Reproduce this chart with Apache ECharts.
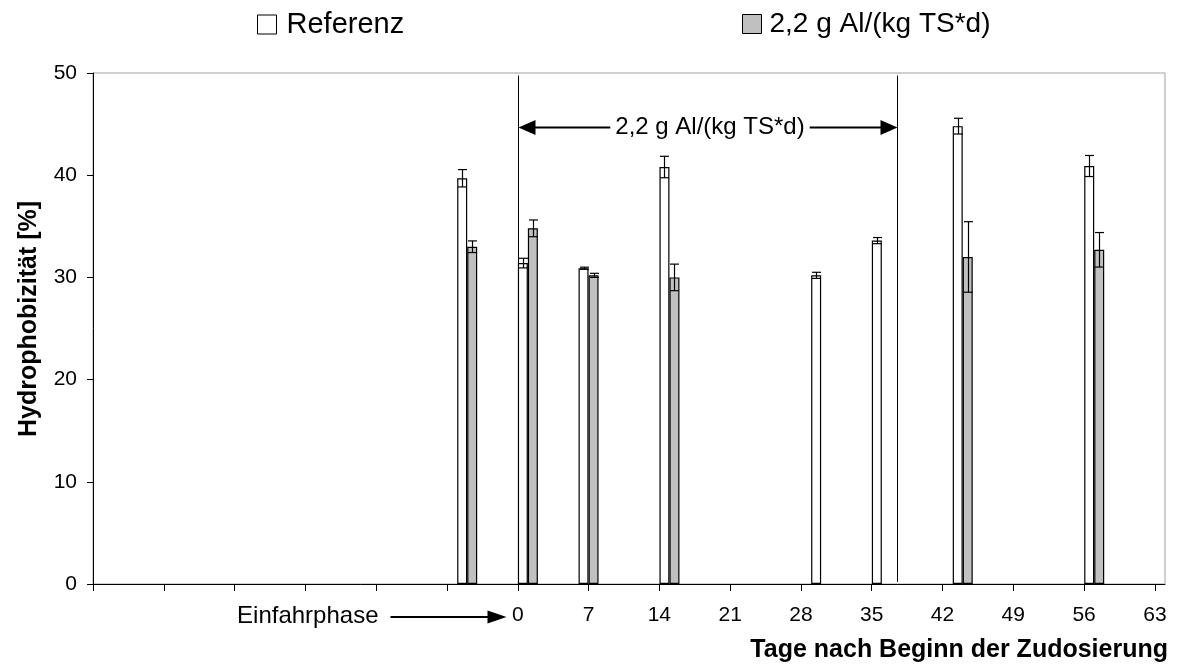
<!DOCTYPE html>
<html>
<head>
<meta charset="utf-8">
<script src="https://cdn.jsdelivr.net/npm/echarts@6/dist/echarts.min.js"></script>
<style>html,body{margin:0;padding:0;background:#fff}#c{width:1179px;height:668px}</style>
</head>
<body>
<div id="c"></div>
<script>
// ---- data ----
const days          = [-5, 1, 7, 15, 30, 36, 44, 57];
const referenz      = [39.7, 31.4, 30.9, 40.8, 30.2, 33.6, 44.8, 40.9];
const referenzErr   = [0.85, 0.47, 0.1, 1.05, 0.3, 0.3, 0.77, 1.03];
const aluminium     = [33.0, 34.8, 30.2, 30.0, null, null, 32.0, 32.7];
const aluminiumErr  = [0.57, 0.82, 0.2, 1.3, null, null, 3.45, 1.69];
const xTickValues   = [-42, -35, -28, -21, -14, -7, 0, 7, 14, 21, 28, 35, 42, 49, 56, 63];
const xLabelValues  = [0, 7, 14, 21, 28, 35, 42, 49, 56, 63];
const yTickValues   = [0, 10, 20, 30, 40, 50];
const dosingStart   = 0;
const dosingEnd     = 37.5;
const nameRef = 'Referenz';
const nameAl  = '2,2 g Al/(kg TS*d)';

const FONT = 'Liberation Sans, Arial, sans-serif';
const chart = echarts.init(document.getElementById('c'), null, {renderer: 'canvas'});

function errSeries(name, vals, errs, offset) {
  const data = [];
  days.forEach((d, i) => { if (vals[i] != null) data.push([d, vals[i], errs[i]]); });
  return {
    type: 'custom', name: name + ' err', data: data, z: 5, clip: false, silent: true,
    encode: {x: 0, y: 1},
    renderItem: function (params, api) {
      const x = api.value(0), y = api.value(1), e = api.value(2);
      const hi = api.coord([x, y + e]);
      const lo = api.coord([x, y - e]);
      const cx = Math.round(hi[0] + offset) + 0.5;
      const hw = 4.5;
      const st = {stroke: '#000', lineWidth: 1.2};
      return {type: 'group', children: [
        {type: 'line', shape: {x1: cx, y1: hi[1], x2: cx, y2: lo[1]}, style: st},
        {type: 'line', shape: {x1: cx - hw, y1: hi[1], x2: cx + hw, y2: hi[1]}, style: st},
        {type: 'line', shape: {x1: cx - hw, y1: lo[1], x2: cx + hw, y2: lo[1]}, style: st}
      ]};
    }
  };
}

const option = {
  animation: false,
  backgroundColor: '#fff',
  textStyle: {fontFamily: FONT, color: '#000'},
  grid: {left: 93, top: 73, right: 14, bottom: 84, show: true, borderColor: '#a0a0a0', borderWidth: 1, backgroundColor: 'transparent'},
  legend: [
    {data: [nameRef], left: 257, top: 10, padding: 0, icon: 'rect', itemWidth: 19, itemHeight: 19,
     itemStyle: {borderColor: '#000', borderWidth: 1},
     textStyle: {fontSize: 29, fontFamily: FONT, color: '#000', padding: [0, 0, 0, 5]}},
    {data: [nameAl], left: 742, top: 10, padding: 0, icon: 'rect', itemWidth: 19, itemHeight: 19,
     itemStyle: {borderColor: '#000', borderWidth: 1},
     textStyle: {fontSize: 28, fontFamily: FONT, color: '#000', padding: [0, 0, 0, 3]}}
  ],
  xAxis: {
    type: 'value', min: -42, max: 64, interval: 7,
    axisLine: {show: true, onZero: false, lineStyle: {color: '#000', width: 1}},
    axisTick: {show: true, length: 7, customValues: xTickValues, lineStyle: {color: '#000'}},
    axisLabel: {customValues: xLabelValues, fontSize: 21, fontFamily: FONT, color: '#000', margin: 21,
      formatter: v => (v >= 0 && v <= 63) ? String(v) : ''},
    splitLine: {show: false}
  },
  yAxis: {
    type: 'value', min: 0, max: 50, interval: 10,
    axisLine: {show: true, onZero: false, lineStyle: {color: '#000', width: 1}},
    axisTick: {show: true, length: 6, customValues: yTickValues, lineStyle: {color: '#000'}},
    axisLabel: {customValues: yTickValues, fontSize: 21, fontFamily: FONT, color: '#000', margin: 16},
    splitLine: {show: false}
  },
  series: [
    {type: 'bar', name: nameRef, barWidth: 10, barGap: '0%',
     data: days.map((d, i) => [d, referenz[i]]),
     itemStyle: {color: '#ffffff', borderColor: '#000', borderWidth: 1.2}},
    {type: 'bar', name: nameAl, barWidth: 10, barGap: '0%',
     data: days.map((d, i) => [d, aluminium[i]]),
     itemStyle: {color: '#c0c0c0', borderColor: '#000', borderWidth: 1.2}},
    errSeries(nameRef, referenz, referenzErr, -5),
    errSeries(nameAl, aluminium, aluminiumErr, 5)
  ]
};
chart.setOption(option);

// ---- annotations positioned from axis coordinates ----
const px = v => chart.convertToPixel({xAxisIndex: 0}, v);
const py = v => chart.convertToPixel({yAxisIndex: 0}, v);
const x0 = Math.round(px(dosingStart)) + 0.5;
const x1 = Math.round(px(dosingEnd)) + 0.5;
const yTop = py(49.75);
const yArrow = Math.round(py(44.72)) + 0.5;
const yAxisPx = py(0);
const mid = (x0 + x1) / 2 + 2;
const headL = 17, headH = 7.5;
const yE = py(0) + 32;
const lineStyle = {stroke: '#000', lineWidth: 1};

chart.setOption({
  graphic: [
    {type: 'line', shape: {x1: x0, y1: yTop, x2: x0, y2: yAxisPx}, style: lineStyle, z: 10},
    {type: 'line', shape: {x1: x1, y1: yTop, x2: x1, y2: py(0.22)}, style: lineStyle, z: 10},
    {type: 'line', shape: {x1: x0 + headL - 2, y1: yArrow, x2: x1 - headL + 2, y2: yArrow}, style: {stroke: '#000', lineWidth: 2}, z: 10},
    {type: 'polygon', shape: {points: [[x0, yArrow], [x0 + headL, yArrow - headH], [x0 + headL, yArrow + headH]]}, style: {fill: '#000'}, z: 10},
    {type: 'polygon', shape: {points: [[x1, yArrow], [x1 - headL, yArrow - headH], [x1 - headL, yArrow + headH]]}, style: {fill: '#000'}, z: 10},
    {type: 'text', x: mid, y: yArrow, z: 11,
     style: {text: nameAl, fontSize: 24, fontFamily: FONT, fill: '#000', align: 'center', verticalAlign: 'middle',
             backgroundColor: '#fff', padding: [2, 5]}},
    // Einfahrphase
    {type: 'text', x: x0 - 140, y: yE, z: 11,
     style: {text: 'Einfahrphase', fontSize: 24, fontFamily: FONT, fill: '#000', align: 'right', verticalAlign: 'middle'}},
    {type: 'line', shape: {x1: x0 - 128, y1: yE + 1, x2: x0 - 28, y2: yE + 1}, style: {stroke: '#000', lineWidth: 2}, z: 10},
    {type: 'polygon', shape: {points: [[x0 - 12, yE + 1], [x0 - 31, yE - 5.5], [x0 - 31, yE + 7.5]]}, style: {fill: '#000'}, z: 10},
    // axis titles
    {type: 'text', x: 1168, y: 650, z: 11,
     style: {text: 'Tage nach Beginn der Zudosierung', fontSize: 25, fontWeight: 'bold', fontFamily: FONT, fill: '#000', align: 'right', verticalAlign: 'middle'}},
    {type: 'text', x: 29, y: 319, rotation: Math.PI / 2, z: 11,
     style: {text: 'Hydrophobizität [%]', fontSize: 25, fontWeight: 'bold', fontFamily: FONT, fill: '#000', align: 'center', verticalAlign: 'middle'}}
  ]
});
</script>
</body>
</html>
